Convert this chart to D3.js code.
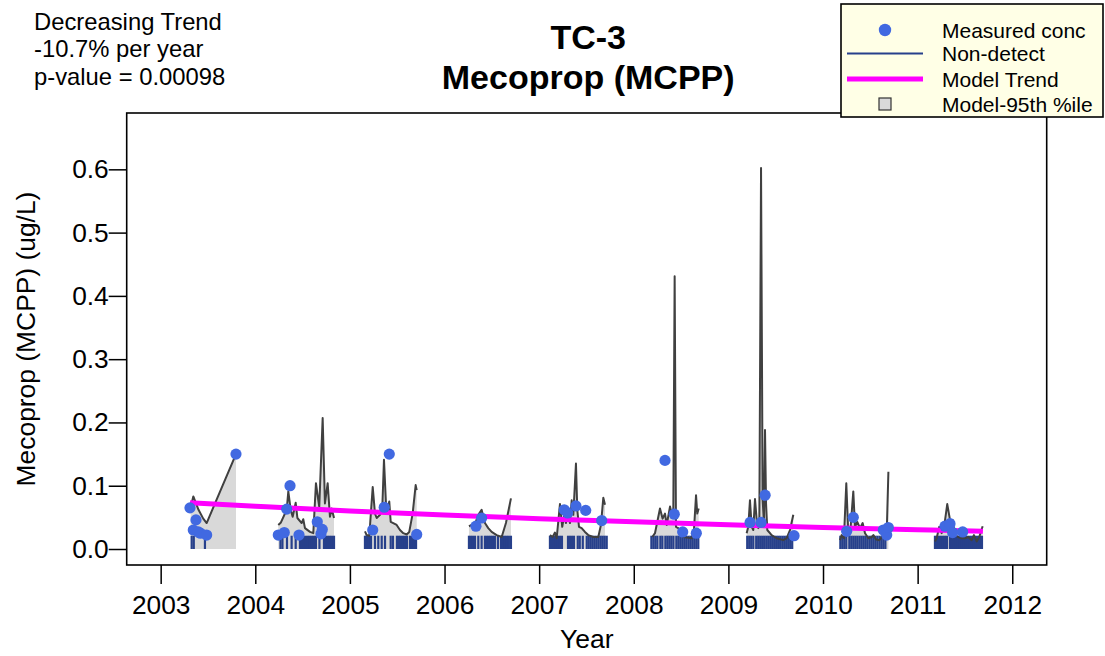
<!DOCTYPE html>
<html><head><meta charset="utf-8">
<script src="https://cdn.jsdelivr.net/npm/d3@7"></script>
<style>body{margin:0;background:#fff}svg{display:block;font-family:"Liberation Sans",Arial,Helvetica,sans-serif}</style>
</head><body><svg id="chart" width="1105" height="656"></svg>
<script>
// ---------------- data ----------------
const titleLines = ["TC-3", "Mecoprop (MCPP)"];
const trendText = ["Decreasing Trend", "-10.7% per year", "p-value = 0.00098"];
const xTickValues = [2003, 2004, 2005, 2006, 2007, 2008, 2009, 2010, 2011, 2012];
const yTickValues = [0.0, 0.1, 0.2, 0.3, 0.4, 0.5, 0.6];
const legendLabels = ["Measured conc", "Non-detect", "Model Trend", "Model-95th %ile"];

const measuredYears = [2003.310, 2003.345, 2003.373, 2003.397, 2003.420, 2003.486, 2003.796,
  2004.243, 2004.306, 2004.332, 2004.367, 2004.462, 2004.655, 2004.694, 2004.708,
  2005.241, 2005.363, 2005.416, 2005.706,
  2006.332, 2006.392,
  2007.265, 2007.301, 2007.389, 2007.492, 2007.661,
  2008.330, 2008.428, 2008.517, 2008.661,
  2009.229, 2009.345, 2009.388, 2009.694,
  2010.250, 2010.320, 2010.637, 2010.673, 2010.690,
  2011.289, 2011.342, 2011.370, 2011.476];
const measuredValues = [0.065, 0.030, 0.046, 0.027, 0.025, 0.022, 0.150,
  0.022, 0.026, 0.063, 0.100, 0.022, 0.043, 0.024, 0.031,
  0.030, 0.066, 0.150, 0.023,
  0.036, 0.049,
  0.062, 0.057, 0.068, 0.061, 0.045,
  0.140, 0.055, 0.027, 0.025,
  0.042, 0.042, 0.085, 0.021,
  0.028, 0.050, 0.030, 0.022, 0.034,
  0.036, 0.040, 0.026, 0.027];

const nonDetectLimit = 0.021;
const nonDetectYears = [2003.328, 2003.350, 2003.468,
  2004.266, 2004.287, 2004.335, 2004.384, 2004.427, 2004.472, 2004.493, 2004.514, 2004.536, 2004.557,
  2004.578, 2004.599, 2004.620, 2004.641, 2004.678, 2004.726, 2004.747, 2004.768, 2004.789, 2004.810, 2004.832,
  2005.159, 2005.180, 2005.201, 2005.223, 2005.265, 2005.300, 2005.336, 2005.371, 2005.431, 2005.455,
  2005.497, 2005.518, 2005.539, 2005.561, 2005.582, 2005.603, 2005.635, 2005.656, 2005.677, 2005.699,
  2006.258, 2006.279, 2006.300, 2006.322, 2006.357, 2006.392, 2006.427, 2006.448, 2006.469, 2006.490,
  2006.511, 2006.532, 2006.564, 2006.596, 2006.617, 2006.638, 2006.659, 2006.680, 2006.702,
  2007.114, 2007.135, 2007.156, 2007.178, 2007.199, 2007.220, 2007.241, 2007.305, 2007.326, 2007.347,
  2007.368, 2007.408, 2007.429, 2007.461, 2007.503, 2007.524, 2007.545, 2007.566, 2007.587, 2007.608,
  2007.629, 2007.651, 2007.672, 2007.693, 2007.714,
  2008.186, 2008.207, 2008.228, 2008.249, 2008.281, 2008.302, 2008.334, 2008.355, 2008.376, 2008.397,
  2008.419, 2008.450, 2008.471, 2008.492, 2008.513, 2008.534, 2008.555, 2008.577, 2008.598, 2008.619,
  2008.640, 2008.661, 2008.682,
  2009.199, 2009.220, 2009.241, 2009.263, 2009.294, 2009.315, 2009.336, 2009.357, 2009.378, 2009.400,
  2009.421, 2009.442, 2009.463, 2009.484, 2009.505, 2009.526, 2009.547, 2009.569, 2009.590, 2009.611,
  2009.632, 2009.653, 2009.674,
  2010.183, 2010.204, 2010.225, 2010.246, 2010.278, 2010.299, 2010.320, 2010.341, 2010.362, 2010.384,
  2010.405, 2010.426, 2010.447, 2010.468, 2010.490, 2010.511, 2010.532, 2010.553, 2010.574, 2010.596,
  2010.617, 2010.638, 2010.659,
  2011.183, 2011.204, 2011.226, 2011.247, 2011.268, 2011.289, 2011.310, 2011.342, 2011.363, 2011.384,
  2011.405, 2011.427, 2011.448, 2011.469, 2011.490, 2011.511, 2011.532, 2011.553, 2011.574, 2011.595,
  2011.617, 2011.638, 2011.659, 2011.680];

// model 95th percentile curve, one list of [year, value] per sampling season
const model2003 = [[2003.317,0.066],[2003.345,0.083],[2003.400,0.062],[2003.450,0.048],[2003.486,0.041],[2003.796,0.150]];
const model2004 = [[2004.243,0.038],[2004.271,0.042],[2004.332,0.062],[2004.349,0.091],[2004.374,0.062],[2004.395,0.051],
  [2004.427,0.073],[2004.445,0.049],[2004.490,0.041],[2004.507,0.047],[2004.525,0.033],[2004.578,0.027],[2004.613,0.025],
  [2004.641,0.104],[2004.666,0.077],[2004.676,0.067],[2004.712,0.207],[2004.736,0.072],[2004.765,0.104],[2004.789,0.051],
  [2004.807,0.064],[2004.832,0.049]];
const model2005 = [[2005.159,0.028],[2005.177,0.022],[2005.205,0.021],[2005.241,0.098],[2005.265,0.056],[2005.283,0.049],
  [2005.318,0.054],[2005.342,0.064],[2005.360,0.141],[2005.381,0.072],[2005.399,0.062],[2005.416,0.075],[2005.431,0.043],
  [2005.458,0.041],[2005.494,0.038],[2005.529,0.030],[2005.564,0.025],[2005.600,0.023],[2005.627,0.027],[2005.663,0.056],
  [2005.695,0.101],[2005.706,0.093]];
const model2006 = [[2006.258,0.036],[2006.287,0.038],[2006.311,0.035],[2006.357,0.054],[2006.392,0.062],[2006.427,0.041],
  [2006.462,0.033],[2006.498,0.027],[2006.551,0.022],[2006.604,0.019],[2006.649,0.041],[2006.702,0.080]];
const model2007 = [[2007.114,0.022],[2007.143,0.019],[2007.167,0.026],[2007.185,0.017],[2007.220,0.071],[2007.244,0.035],
  [2007.265,0.054],[2007.283,0.041],[2007.301,0.062],[2007.326,0.041],[2007.344,0.077],[2007.361,0.054],[2007.389,0.135],
  [2007.403,0.062],[2007.421,0.035],[2007.449,0.033],[2007.484,0.027],[2007.519,0.022],[2007.572,0.019],[2007.625,0.019],
  [2007.653,0.038],[2007.678,0.081],[2007.696,0.070]];
const model2008 = [[2008.196,0.019],[2008.224,0.025],[2008.277,0.064],[2008.305,0.048],[2008.330,0.056],[2008.348,0.038],
  [2008.383,0.067],[2008.401,0.056],[2008.418,0.064],[2008.432,0.431],[2008.446,0.035],[2008.470,0.033],[2008.523,0.019],
  [2008.559,0.018],[2008.612,0.017],[2008.636,0.030],[2008.658,0.085],[2008.671,0.056],[2008.686,0.064]];
const model2009 = [[2009.193,0.025],[2009.210,0.035],[2009.228,0.077],[2009.246,0.035],[2009.263,0.030],[2009.281,0.079],
  [2009.299,0.046],[2009.316,0.033],[2009.327,0.041],[2009.345,0.602],[2009.362,0.077],[2009.376,0.041],[2009.387,0.188],
  [2009.398,0.072],[2009.411,0.030],[2009.457,0.022],[2009.510,0.017],[2009.580,0.014],[2009.616,0.017],[2009.651,0.030],
  [2009.686,0.054]];
const model2010 = [[2010.179,0.014],[2010.197,0.022],[2010.221,0.017],[2010.246,0.104],[2010.267,0.025],[2010.292,0.035],
  [2010.320,0.091],[2010.338,0.035],[2010.362,0.043],[2010.391,0.033],[2010.419,0.041],[2010.444,0.025],[2010.479,0.017],
  [2010.515,0.019],[2010.532,0.022],[2010.561,0.015],[2010.596,0.014],[2010.621,0.019],[2010.638,0.022],[2010.674,0.030],
  [2010.691,0.122]];
const model2011 = [[2011.183,0.012],[2011.201,0.017],[2011.228,0.035],[2011.254,0.025],[2011.278,0.033],[2011.313,0.071],
  [2011.342,0.046],[2011.370,0.046],[2011.394,0.022],[2011.429,0.019],[2011.465,0.017],[2011.500,0.017],[2011.535,0.019],
  [2011.571,0.014],[2011.595,0.022],[2011.624,0.012],[2011.651,0.019],[2011.687,0.036]];
const modelSeasons = [model2003, model2004, model2005, model2006, model2007, model2008, model2009, model2010, model2011];

const trendYears = [2003.31, 2004.0, 2005.0, 2006.0, 2007.0, 2008.0, 2009.0, 2010.0, 2011.0, 2011.69];
const trendValues = [0.073, 0.0675, 0.0600, 0.0537, 0.0480, 0.0430, 0.0383, 0.0340, 0.0305, 0.0280];

// ---------------- drawing ----------------
const svg = d3.select("#chart");
const L = 126.7, R = 1046.7, T = 113, B = 565;
const x = d3.scaleLinear().domain([2002.641, 2012.364]).range([L, R]);
const y = d3.scaleLinear().domain([-0.02528, 0.68902]).range([B, T]);

const plot = svg.append("g");
plot.append("defs").append("clipPath").attr("id", "clip")
  .append("rect").attr("x", L).attr("y", T).attr("width", R - L).attr("height", B - T);
const inner = plot.append("g").attr("clip-path", "url(#clip)");

// shaded 95th percentile area
const area = d3.area().x(d => x(d[0])).y0(y(0)).y1(d => y(d[1]));
inner.selectAll("path.band").data(modelSeasons).join("path")
  .attr("class", "band").attr("d", area).attr("fill", "#d9d9d9").attr("stroke", "none");

// non-detect bars
inner.selectAll("line.nd").data(nonDetectYears).join("line")
  .attr("class", "nd")
  .attr("x1", d => x(d)).attr("x2", d => x(d))
  .attr("y1", y(0)).attr("y2", y(nonDetectLimit))
  .attr("stroke", "#27408B").attr("stroke-width", 2.2);

// model line
const line = d3.line().x(d => x(d[0])).y(d => y(d[1]));
inner.selectAll("path.model").data(modelSeasons).join("path")
  .attr("class", "model").attr("d", line).attr("fill", "none")
  .attr("stroke", "#404040").attr("stroke-width", 2).attr("stroke-linejoin", "round");

// trend
const trendData = trendYears.map((t, i) => [t, trendValues[i]]);
inner.append("path").datum(trendData)
  .attr("d", d3.line().x(d => x(d[0])).y(d => y(d[1])).curve(d3.curveMonotoneX))
  .attr("fill", "none").attr("stroke", "#ff00ff").attr("stroke-width", 5);

// measured points
inner.selectAll("circle.meas").data(measuredYears.map((t, i) => [t, measuredValues[i]])).join("circle")
  .attr("class", "meas").attr("cx", d => x(d[0])).attr("cy", d => y(d[1])).attr("r", 5.6)
  .attr("fill", "#4169E1");

// axes
const yAxis = d3.axisLeft(y).tickValues(yTickValues).tickSize(18).tickPadding(0).tickFormat(d3.format(".1f"));
const gy = svg.append("g").attr("transform", `translate(${L},0)`).call(yAxis);
const xAxis = d3.axisBottom(x).tickValues(xTickValues).tickSize(19).tickPadding(11).tickFormat(d3.format("d"));
const gx = svg.append("g").attr("transform", `translate(0,${B})`).call(xAxis);
[gx, gy].forEach(g => {
  g.select(".domain").remove();
  g.selectAll(".tick line").attr("stroke", "#000").attr("stroke-width", 1.5);
  g.selectAll(".tick text").attr("fill", "#000").attr("font-size", 26.3)
    .attr("font-family", '"Liberation Sans",Arial,sans-serif');
});

// box
svg.append("rect").attr("x", L).attr("y", T).attr("width", R - L).attr("height", B - T)
  .attr("fill", "none").attr("stroke", "#000").attr("stroke-width", 1.6);

// axis titles
svg.append("text").attr("x", (L + R) / 2).attr("y", 648).attr("text-anchor", "middle")
  .attr("font-size", 26.5).text("Year");
svg.append("text").attr("transform", `translate(35,${(T + B) / 2}) rotate(-90)`).attr("text-anchor", "middle")
  .attr("font-size", 26.4).text("Mecoprop (MCPP) (ug/L)");

// title
svg.selectAll("text.title").data(titleLines).join("text").attr("class", "title")
  .attr("x", (L + R) / 2 + 1.5).attr("y", (d, i) => 49 + i * 40).attr("text-anchor", "middle")
  .attr("font-size", 34).attr("font-weight", "bold").text(d => d);

// trend text
svg.selectAll("text.tt").data(trendText).join("text").attr("class", "tt")
  .attr("x", 34).attr("y", (d, i) => 29.5 + i * 27.8)
  .attr("font-size", 23.8).text(d => d);

// legend
const lg = svg.append("g");
lg.append("rect").attr("x", 841).attr("y", 4).attr("width", 262).attr("height", 113)
  .attr("fill", "#ffffe6").attr("stroke", "#000").attr("stroke-width", 1.6);
const rowsY = [30, 53.5, 79, 104];
lg.append("circle").attr("cx", 885).attr("cy", rowsY[0]).attr("r", 6.2).attr("fill", "#4169E1");
lg.append("line").attr("x1", 847).attr("x2", 923).attr("y1", rowsY[1]).attr("y2", rowsY[1])
  .attr("stroke", "#27408B").attr("stroke-width", 1.8);
lg.append("line").attr("x1", 847).attr("x2", 923).attr("y1", rowsY[2]).attr("y2", rowsY[2])
  .attr("stroke", "#ff00ff").attr("stroke-width", 5);
lg.append("rect").attr("x", 879).attr("y", rowsY[3] - 6).attr("width", 12).attr("height", 12)
  .attr("fill", "#d9d9d9").attr("stroke", "#333").attr("stroke-width", 1.2);
lg.selectAll("text").data(legendLabels).join("text")
  .attr("x", 942).attr("y", (d, i) => rowsY[i] + 7.5).attr("font-size", 21).text(d => d);
</script></body></html>
